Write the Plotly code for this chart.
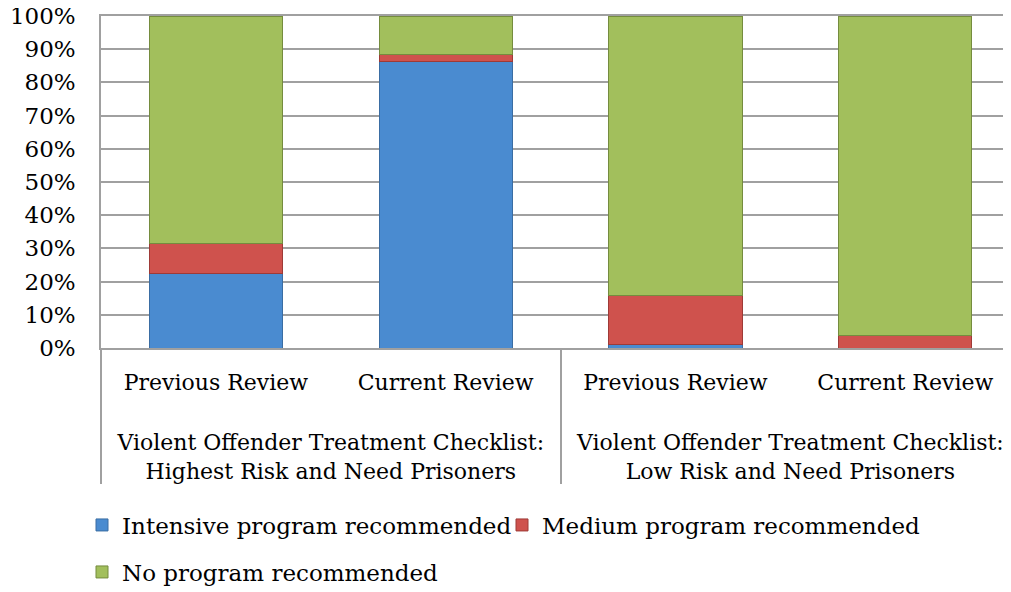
import plotly.graph_objects as go

groups = [
    "<br>Violent Offender Treatment Checklist:<br>Highest Risk and Need Prisoners",
    "<br>Violent Offender Treatment Checklist:<br>Highest Risk and Need Prisoners",
    "<br>Violent Offender Treatment Checklist:<br>Low Risk and Need Prisoners",
    "<br>Violent Offender Treatment Checklist:<br>Low Risk and Need Prisoners",
]
# the tiny trailing line only adds a little room below the first label row
reviews = [
    "Previous Review<br><sup>&nbsp;</sup>",
    "Current Review<br><sup>&nbsp;</sup>",
    "Previous Review<br><sup>&nbsp;</sup>",
    "Current Review<br><sup>&nbsp;</sup>",
]

intensive = [22.3, 86.3, 1.0, 0.0]
medium = [9.2, 2.1, 14.8, 3.7]
no_program = [68.5, 11.6, 84.2, 96.3]

SERIES = [
    ("Intensive program recommended", intensive, "#4A8BD0", "#3A6DA3", "legend"),
    ("Medium program recommended", medium, "#CF524D", "#9E3A37", "legend2"),
    ("No program recommended", no_program, "#A2BF5C", "#758C3E", "legend3"),
]

FONT = "DejaVu Serif"
# the page body adds an 8px offset, so the figure is drawn 8px smaller
W, H = 1003, 584

fig = go.Figure()
for name, values, color, edge, leg in SERIES:
    fig.add_trace(
        go.Bar(
            x=[groups, reviews],
            y=values,
            name=name,
            legend=leg,
            width=0.58,
            marker=dict(color=color, line=dict(color=edge, width=1)),
        )
    )


def legend_box(x_px, y_px):
    return dict(
        orientation="h",
        x=x_px / W,
        xref="container",
        xanchor="left",
        y=(H - y_px) / H,
        yref="container",
        yanchor="middle",
        itemwidth=30,
        bgcolor="rgba(0,0,0,0)",
        font=dict(family=FONT, size=23),
    )


fig.update_layout(
    barmode="stack",
    width=W,
    height=H,
    margin=dict(l=93, r=0, t=8, b=244, autoexpand=False),
    paper_bgcolor="white",
    plot_bgcolor="white",
    font=dict(family=FONT, size=23, color="#000000"),
    showlegend=True,
    legend=legend_box(74, 517),
    legend2=legend_box(494, 517),
    legend3=legend_box(74, 564),
)

fig.update_xaxes(
    type="multicategory",
    range=[-0.5, 3.46],
    automargin=False,
    showline=True,
    mirror=True,
    linecolor="#A0A0A0",
    linewidth=1.5,
    showdividers=True,
    dividercolor="#A0A0A0",
    dividerwidth=1.5,
    ticks="",
    ticklabelstandoff=14,
    tickfont=dict(family=FONT, size=22),
)
fig.update_yaxes(
    range=[0, 100],
    dtick=10,
    ticksuffix="%",
    automargin=False,
    ticklabeloverflow="allow",
    showgrid=True,
    gridcolor="#A0A0A0",
    gridwidth=1.5,
    showline=True,
    linecolor="#A0A0A0",
    linewidth=1.5,
    ticks="",
    ticklabelstandoff=19,
    zeroline=False,
    tickfont=dict(family=FONT, size=23),
)

fig.write_html("out.html")
